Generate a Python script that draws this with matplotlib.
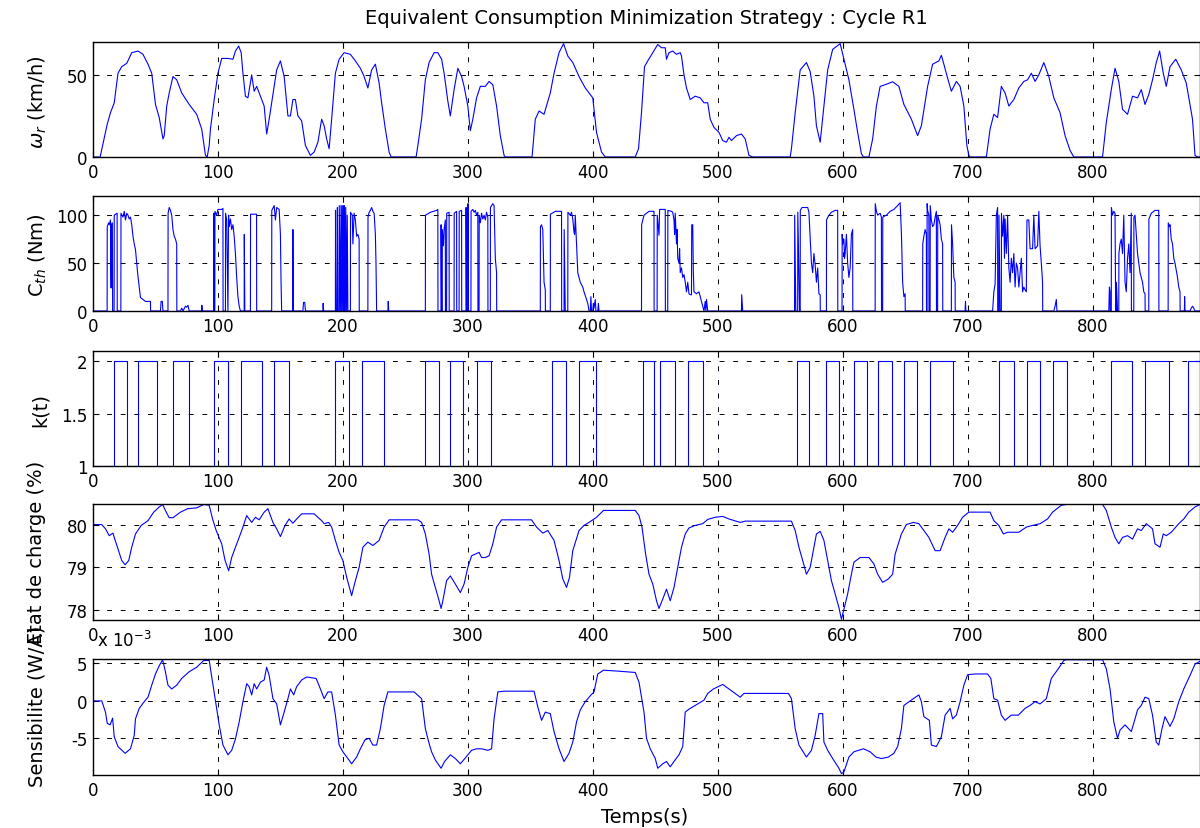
import numpy as np
import matplotlib
matplotlib.use("Agg")
import matplotlib.pyplot as plt
from matplotlib.ticker import FuncFormatter

# ---------------- data ----------------
# Vehicle speed (km/h)
speed_t = [0, 5.7, 11.4, 14, 17, 20, 23, 27, 31, 36, 40, 44, 47, 50, 53, 56, 57, 59, 61, 64, 67, 71, 77, 83, 87, 90,
           91.4, 93, 94, 97, 100, 103, 108, 112, 114, 116.6, 118.6, 120, 122, 124, 127, 129, 131, 134, 137, 139, 141,
           144, 147, 150, 153, 156, 158, 160, 162, 164, 167, 170, 174, 177, 180, 183, 185, 187, 189, 191, 194, 197,
           201, 206, 210, 214, 217, 220, 223, 226, 229, 231, 234, 237, 238.6, 258.6, 260, 263, 266, 269, 273, 276,
           279, 281, 284, 286, 289, 292, 295, 297, 300, 302, 304, 307, 310, 314, 317, 320, 323, 326, 329, 330, 351.4,
           354, 357, 361, 366, 369, 373, 376.6, 380, 384, 389, 394, 400, 403, 407, 410, 434, 436.6, 439, 441.4, 444,
           448, 452, 455, 458, 459, 461, 464, 467, 470, 471, 473, 475, 478, 482, 486, 489, 492, 494, 497, 501, 504,
           507, 509, 511, 515, 519, 522, 525, 528, 558, 559, 562, 566, 571, 574, 577, 579, 582, 585, 588, 592, 598,
           601, 605, 609, 612, 615, 616.6, 621, 624, 627, 630, 634, 640, 645, 649, 655, 660, 663, 668, 672, 677, 679,
           681, 684, 687, 691, 694, 697, 699.4, 701, 702, 715, 718, 721, 724, 727, 730, 733, 737, 741, 745, 748, 751,
           754, 757, 761, 765, 769, 774, 778, 782, 785, 808, 811, 815, 818, 821, 824, 828, 832, 836, 839, 842, 845,
           848, 851, 853.7, 856.6, 859, 862, 866.6, 871, 875, 880, 882, 884, 886]
speed_v = [0, 0, 20, 27, 33, 51, 55, 57, 63.5, 64.5, 62.5, 56.5, 51, 32, 24, 11, 13, 31, 39, 49, 47, 39, 32, 26, 17, 1,
           0, 7, 17, 35, 51, 60, 60, 59.5, 64.5, 67.5, 63.5, 51, 37, 36, 50, 40, 43, 37, 31, 14, 23,
           38, 53, 58.5, 49, 25, 25, 35, 35, 25, 22, 7, 1, 3, 9, 23, 19, 11, 5, 23, 51, 59.5,
           63.5, 62.5, 58.5, 54, 49, 42, 53, 56.5, 45, 33, 17, 3, 0, 0, 7, 23, 47, 57.5, 63.5, 63.5,
           59.5, 51, 34, 25, 41, 54, 49, 43, 31, 16, 23, 36, 43, 43, 46, 44, 31, 13, 1, 0, 0,
           23, 28, 26, 39, 51, 63.5, 69, 61.5, 57.5, 49, 42, 36, 15, 3, 0, 0, 5, 27, 55, 58.5,
           63.5, 68.5, 66.5, 66.5, 59.5, 63.5, 64.5, 62.5, 63.5, 61.5, 50, 42, 35, 37, 36, 33, 33, 23, 18, 15, 10,
           9, 12, 10, 13, 14, 11, 1, 0, 0, 5, 27, 53, 57.5, 52, 37, 19, 9, 31, 53, 65.5, 69,
           59.5, 47, 29, 15, 2, 0, 0, 11, 31, 43, 44, 45.8, 43, 32, 23, 13, 19, 43, 56.5, 58.5, 61.9,
           56.5, 48, 40, 46, 43, 31, 7, 1, 0, 0, 17, 26, 24, 43, 39, 31, 35, 42, 46, 47, 51,
           46, 50, 57.5, 49, 36, 27, 13, 4, 0, 0, 21, 41, 54, 46, 29, 26, 37, 36, 41, 32, 38,
           47, 57.5, 64.5, 51, 43, 55, 59.5, 53, 45, 23, 1, 0, 0]

# Thermal engine torque (Nm)
cth_t = [0, 11.3, 11.4, 12.5, 13, 14, 14.5, 14.6, 15.5, 15.7, 16.9, 17, 19.3, 19.4, 22.3, 22.4, 24, 25, 26, 27, 28,
         29, 30, 31, 32, 33, 34, 35, 36, 37, 38, 40, 42, 46, 46.1, 54, 54.5, 55.5, 56, 60, 60.1, 61, 62, 63, 64, 65,
         66, 67, 67.1, 70, 71, 72, 74, 75, 76, 77, 87, 87.1, 87.5, 96.5, 96.6, 97, 97.5, 97.6, 99, 100, 103, 104,
         104.1, 106, 106.1, 107, 108, 108.5, 109, 110, 111, 112, 113, 114, 115, 116, 117, 118, 121, 121.1, 121.5,
         126, 126.1, 130.9, 131, 143, 143.1, 145, 146, 147, 149, 150, 150.5, 151, 159.9, 160, 160.2, 168, 168.5,
         169.5, 170, 184, 184.2, 184.6, 194, 194.1, 194.6, 195.5, 195.6, 196, 197, 197.1, 198, 198.5, 199, 199.5,
         200, 200.5, 201, 201.3, 202, 202.3, 203, 203.5, 204, 206, 206.1, 207.5, 208, 209, 210, 211, 212, 213,
         213.1, 220, 220.1, 221, 222, 223, 224, 225, 226, 226.5, 227, 236, 236.3, 236.7, 266, 266.1, 270, 275, 276,
         276.1, 278.5, 278.6, 279, 279.5, 279.6, 280.5, 281, 282, 282.1, 283, 283.1, 285, 285.1, 289, 289.1, 291,
         291.1, 293, 293.1, 295, 295.1, 298.5, 298.6, 299, 300, 300.1, 300.5, 302.5, 302.6, 304, 305, 306, 307, 308,
         308.1, 309, 309.1, 310, 311, 312, 313, 314, 315, 316, 316.1, 318, 318.1, 320, 321, 322, 323, 323.1, 358,
         358.1, 359, 360, 361, 362, 362.1, 366, 366.1, 370, 375, 375.1, 377, 377.1, 378, 380, 380.1, 382, 383, 384,
         385, 385.5, 386, 387, 388, 390, 392, 393, 395, 396, 397, 398, 398.5, 399, 400, 400.5, 401, 402, 402.5, 404,
         404.5, 405, 439, 439.1, 441, 443, 445, 448, 449, 449.1, 451.5, 451.6, 453, 453.5, 458, 458.1, 460, 460.1,
         463, 464, 465, 465.5, 466, 467, 467.5, 468, 469, 469.5, 470, 471, 472, 473, 474, 475, 476, 477, 478, 479,
         479.2, 480, 480.5, 481, 483, 485, 487, 488, 489, 490, 490.5, 491, 492, 519, 519.2, 520, 561.5, 561.6, 562.5,
         564, 564.1, 565.5, 566, 566.1, 567.5, 572, 573, 574, 575, 576, 577, 578, 579, 580, 581, 582, 582.1, 587,
         587.1, 589, 591, 594, 596, 596.1, 599.5, 599.6, 600, 601, 601.5, 602, 603, 604, 605, 606, 607, 608, 608.1,
         626, 626.1, 627, 628, 630, 631, 631.1, 632, 632.1, 635, 638, 641, 644, 646, 647, 648, 649, 650, 650.1, 664,
         664.1, 665, 666, 667, 667.1, 667.5, 667.6, 668, 669, 669.1, 670, 670.1, 671, 672, 673, 674, 675, 675.1, 676,
         676.1, 678, 679, 680, 680.1, 687, 687.1, 688, 689, 690, 690.1, 698, 698.3, 698.6, 720, 721, 722, 723, 724,
         724.1, 725, 725.1, 726, 727, 727.1, 728, 729, 729.5, 730, 731, 732, 733, 734, 735, 736, 737, 738, 739, 740,
         741, 742, 743, 744, 745, 746, 747, 747.5, 749, 750, 752, 753, 754, 756, 757, 758, 759, 760, 760.1, 769, 770,
         771, 771.5, 813, 813.5, 814, 814.1, 815, 815.1, 816, 817, 818, 818.5, 819, 819.1, 820, 821, 821.1, 822, 823,
         824, 825, 826, 827, 828, 829, 830, 831, 831.1, 833, 833.1, 834, 835, 836, 838, 840, 841, 842, 842.1, 845,
         845.1, 847, 850, 853, 853.1, 860.5, 860.6, 861.5, 862, 863, 864, 865, 866, 868, 869, 870, 870.1, 873.5,
         873.7, 874, 878, 879, 880, 881, 882, 886]
cth_v = [0, 0, 88, 92, 90, 95, 24, 90, 92, 0, 0, 100, 102, 0, 0, 102, 98, 104, 95, 102, 100,
         96, 98, 90, 78, 70, 64, 50, 36, 25, 14, 12, 10, 10, 0, 0, 10, 10, 0, 0, 102, 108, 105, 100, 85, 78,
         75, 70, 0, 0, 3, 0, 5, 4, 6, 0, 0, 6, 0, 0, 102, 0, 0, 104, 100, 106, 106, 107,
         0, 0, 102, 95, 0, 100, 88, 96, 85, 90, 78, 60, 35, 15, 5, 0, 0, 80, 0,
         0, 101, 101, 0, 0, 105, 110, 95, 108, 106, 80, 31, 0, 0, 85, 0, 0, 9,
         9, 0, 0, 8, 0, 0, 105, 0, 0, 108, 0, 0, 110, 0, 110, 0, 110,
         0, 110, 0, 110, 0, 108, 0, 100, 0, 0, 103, 100, 70, 102, 95, 78, 80, 75,
         0, 0, 98, 103, 105, 108, 104, 102, 80, 50, 0, 0, 10, 0, 0, 100, 103, 105, 106,
         0, 0, 90, 0, 0, 85, 68, 85, 95, 0, 0, 102, 103, 0, 0, 102, 104,
         0, 0, 104, 105, 0, 0, 108, 0, 0, 112, 0, 0, 104, 106, 103, 105, 100, 103,
         0, 0, 100, 92, 102, 96, 100, 95, 103, 98, 0, 0, 108, 112, 110, 55, 40, 0, 0,
         88, 90, 85, 30, 22, 0, 0, 101, 104, 104, 0, 0, 85, 0, 0, 103, 100, 103, 96,
         82, 80, 100, 70, 40, 30, 25, 20, 12, 8, 0, 0, 15, 0, 0, 8, 3, 12, 0, 0,
         8, 0, 0, 90, 100, 102, 104, 104, 104, 0, 0, 100, 79, 106, 106, 0, 0, 105,
         104, 103, 95, 80, 102, 70, 85, 55, 50, 65, 40, 45, 35, 38, 30, 20, 30, 18, 17, 17,
         90, 90, 40, 20, 18, 20, 10, 5, 0, 10, 0, 12, 0, 0, 17, 0, 0, 100, 0,
         0, 103, 0, 0, 105, 108, 108, 103, 76, 50, 40, 60, 48, 30, 45, 18, 17, 0, 0,
         95, 100, 103, 105, 105, 0, 0, 80, 70, 75, 55, 60, 80, 50, 35, 45, 80, 85, 0,
         0, 112, 104, 100, 102, 98, 0, 0, 98, 100, 104, 106, 110, 113, 82, 30, 15, 18, 0, 0,
         70, 78, 85, 80, 0, 0, 112, 105, 100, 0, 0, 110, 95, 88, 90, 98, 104, 0, 0,
         100, 90, 75, 70, 0, 0, 90, 70, 35, 30, 0, 0, 10, 0, 0, 20, 28, 100, 108,
         0, 0, 100, 0, 0, 102, 78, 100, 55, 96, 60, 100, 45, 30, 55, 40, 60, 25, 50, 45,
         25, 40, 55, 20, 25, 22, 20, 95, 95, 65, 65, 100, 65, 68, 104, 68, 50, 30, 0, 0, 5,
         12, 0, 0, 25, 20, 0, 0, 108, 100, 104, 102, 0, 0, 30, 0, 0, 60, 70, 75,
         60, 100, 30, 20, 55, 70, 40, 102, 0, 0, 98, 100, 80, 60, 40, 30, 20, 18, 0, 0,
         96, 102, 105, 105, 0, 0, 92, 88, 90, 75, 70, 55, 50, 35, 25, 20, 0, 0,
         15, 0, 0, 3, 5, 3, 0, 0]

# Mode k(t): switches to 2 at k_on[i], back to 1 at k_off[i]
k_on = [16.6, 35.7, 64.3, 97.1, 118.6, 145, 194, 215, 266, 285.7, 307.7, 367.7, 388.6, 440, 453.7, 476,
        563.7, 586.6, 608.9, 628, 649.4, 670.3, 725, 747.4, 768.6, 815, 841.7, 876]
k_off = [27.1, 51.4, 76.6, 108, 134.9, 157, 205, 233, 276.6, 296, 318.6, 378.6, 402.3, 449.4, 465.7, 488,
         573, 597, 619.4, 639.4, 659.7, 688, 737, 758.3, 779.4, 831.4, 861.4, 890]

# State of charge (%)
soc_t = [0, 7, 10, 13, 16, 17, 20, 23, 25.7, 28.6, 31, 34, 38.6, 44, 48.6, 53, 55.7, 58.6, 61, 64, 70, 75.7, 83,
         88.6, 93, 95.7, 98.6, 103, 105.7, 108.6, 111, 114, 117, 120, 123, 127, 130, 133, 137, 140, 144, 147, 150,
         153.7, 157, 160, 163, 167, 177, 183, 185, 188.6, 191, 194, 197, 200, 203, 206, 207, 210, 213, 216, 220,
         224, 229, 233, 237, 260, 263, 266, 269, 271, 274, 277, 278.6, 280, 283, 286, 290, 294, 297, 300, 303, 306,
         309, 311, 314, 317, 320, 323, 327, 351, 355, 360, 364, 369, 373, 376, 379, 381.4, 384, 389, 393, 397, 403,
         408.6, 434, 437, 439.4, 442.3, 445, 448, 451, 453, 456, 459, 462, 465, 468, 471, 474, 477, 482, 488, 492,
         498, 504, 509, 518, 522, 559, 562, 565, 568, 571, 574, 577, 579, 582, 585, 588, 591, 594, 597, 599, 601,
         604, 607, 609, 614, 621, 625, 628, 632, 636.6, 640, 642, 647, 651, 656.6, 661, 665, 669, 674, 678, 682,
         685, 688, 692, 696, 701, 718, 721, 725, 728.6, 732, 741, 747, 752, 758, 764, 768, 775, 779, 808, 811, 815,
         818, 821, 824, 828, 832, 836, 839, 843, 848, 850, 854, 856.6, 859, 863, 869, 873, 877, 882, 886]
soc_v = [80.0, 80.0, 79.9, 79.74, 79.8, 79.7, 79.43, 79.16, 79.06, 79.16, 79.47, 79.78, 79.98, 80.09, 80.29, 80.41,
         80.47, 80.29, 80.16, 80.16, 80.29, 80.37, 80.39, 80.47, 80.45, 80.13, 79.86, 79.55, 79.16, 78.92, 79.23,
         79.47, 79.7, 79.94, 80.21, 80.05, 80.17, 80.11, 80.29, 80.37, 80.05, 79.9, 79.72, 79.98, 80.13, 80.03,
         80.13, 80.25, 80.25, 80.09, 80.02, 80.05, 79.94, 79.63, 79.35, 79.16, 78.77, 78.45, 78.34, 78.69, 79.0,
         79.47, 79.59, 79.51, 79.63, 79.94, 80.11, 80.11, 80.05, 79.78, 79.31, 78.84, 78.53, 78.22, 78.04, 78.22,
         78.69, 78.8, 78.61, 78.41, 78.61, 79.0, 79.27, 79.31, 79.35, 79.23, 79.23, 79.27, 79.55, 79.94, 80.11,
         80.11, 79.94, 79.8, 79.86, 79.63, 79.16, 78.73, 78.53, 78.77, 79.39, 79.86, 79.98, 80.05, 80.17, 80.33,
         80.33, 80.21, 79.94, 79.31, 78.84, 78.61, 78.22, 78.04, 78.26, 78.49, 78.22, 78.53, 79.0, 79.47, 79.78,
         79.92, 79.98, 80.02, 80.12, 80.17, 80.19, 80.13, 80.05, 80.08, 80.08, 79.86, 79.47, 79.16, 78.84, 79.0,
         79.47, 79.78, 79.84, 79.63, 79.16, 78.69, 78.38, 78.06, 77.79, 78.02, 78.38, 78.84, 79.12, 79.23, 79.23,
         79.08, 78.84, 78.65, 78.73, 78.84, 79.31, 79.78, 80.0, 80.05, 80.02, 79.86, 79.7, 79.39, 79.39, 79.7,
         79.9, 79.82, 79.98, 80.17, 80.29, 80.29, 80.09, 79.98, 79.78, 79.82, 79.82, 79.94, 79.98, 80.02, 80.13,
         80.29, 80.45, 80.47, 80.47, 80.33, 79.94, 79.7, 79.55, 79.7, 79.74, 79.66, 79.9, 79.86, 80.02, 79.9,
         79.55, 79.47, 79.78, 79.74, 79.82, 80.02, 80.13, 80.29, 80.41, 80.47]

# Sensitivity (x 1e-3 W/A)
sens_t = [0, 7, 10, 11.4, 13.7, 15.7, 17, 20, 25.7, 30, 33, 34, 37, 41, 44, 47, 50, 53, 55.7, 57.7, 60, 63, 67, 71,
          77, 83, 88.6, 93, 95.7, 98.6, 101, 104, 108, 111, 114, 117, 120, 123, 125, 127, 129, 131, 134, 137, 139,
          141, 144, 147, 150, 153, 156, 158, 160.6, 163, 167, 171, 178.6, 182, 185, 188, 191, 194, 197, 200, 204,
          207, 211, 214, 217.7, 221, 224, 227, 230, 233, 236, 238.6, 257, 263, 266, 269, 271, 274, 278.6, 281.4, 286,
          290, 294, 298.6, 303, 307, 311, 316, 319, 321, 324, 329, 353, 356, 359, 362, 366, 369, 373, 377, 381, 384,
          387, 390, 394, 398.6, 401, 404, 408.6, 418.6, 434, 437, 441, 443, 446, 450, 452, 456, 459, 462, 465, 469,
          472, 474, 477, 482, 489, 492, 496.6, 504, 509, 518, 521, 556.6, 559, 562, 565, 571, 575, 578, 581, 584,
          585, 588, 592, 597, 599, 601, 605, 609, 616.6, 622, 626.6, 631, 636.6, 641, 644, 647, 649, 656.6, 661,
          663, 665, 669.4, 671, 675, 679, 682, 686, 688, 691, 694, 697, 700, 706, 716, 718.6, 721, 724, 727, 730,
          734.9, 740.6, 746, 750, 754, 758, 763, 767, 772.6, 777, 779, 808, 811, 814, 817, 820, 822, 826, 831, 834,
          836, 839, 842, 845, 848, 851, 853, 855.6, 858, 862, 865, 869, 873, 878, 882, 886]
sens_v = [0, 0, -1.5, -3.0, -3.2, -2.3, -4.8, -6.1, -7.0, -6.4, -4.6, -2.4, -1.0, -0.1, 0.5, 2.1, 3.6, 4.7, 5.5, 4.1,
          2.1, 1.6, 2.1, 3.0, 3.9, 4.5, 5.4, 5.4, 2.5, -0.6, -3.2, -5.9, -7.2, -6.6, -5.1, -2.8, -0.1, 2.3, 1.9,
          0.8, 2.3, 1.6, 2.5, 2.8, 4.5, 3.4, 0.3, -0.4, -3.2, -1.5, 0.3, 1.6, 0.8, 1.9, 2.8, 3.2, 3.0, 1.6, 0.3,
          1.2, 1.2, -1.9, -5.9, -6.8, -7.7, -8.4, -7.5, -6.4, -5.2, -5.0, -5.9, -5.9, -3.7, -0.6, 1.2, 1.2, 1.2,
          0.3, -3.7, -5.7, -6.8, -7.9, -9.0, -8.1, -7.2, -7.7, -8.4, -7.5, -6.6, -6.4, -6.4, -6.6, -6.4, -2.4, 1.2,
          1.3, 1.3, -0.8, -2.6, -1.5, -1.7, -4.1, -6.4, -8.1, -7.0, -5.5, -2.8, -1.2, -0.1, 0.8, 1.2, 3.6, 4.1, 4.0,
          3.8, 2.5, -1.5, -5.0, -6.4, -7.7, -9.0, -8.4, -8.1, -8.8, -8.1, -7.2, -6.1, -1.5, -1.1, -0.6, 0.1, 1.0,
          1.6, 2.2, 1.6, 0.5, 1.0, 1.0, 0.3, -3.7, -5.9, -7.5, -6.6, -4.6, -1.7, -1.7, -5.5, -6.6, -7.7, -9.0,
          -9.7, -9.5, -7.5, -6.8, -6.4, -6.8, -7.5, -7.7, -7.5, -7.0, -6.1, -3.7, -0.6, 0.3, 0.8, -0.1, -2.1, -2.6,
          -5.9, -6.1, -4.8, -1.9, -1.0, -2.4, -1.9, -0.1, 2.1, 3.5, 3.6, 3.6, 3.0, 0.3, 0.1, -1.9, -2.6, -1.9,
          -1.9, -1.0, -0.6, -0.1, -0.4, 0.3, 3.0, 4.3, 5.4, 5.5, 5.5, 4.3, 1.6, -2.8, -5.0, -3.9, -3.2, -4.1,
          -2.4, -1.2, -0.6, 0.5, 0.3, -1.9, -5.5, -5.9, -3.7, -2.1, -3.4, -2.4, -0.1, 1.6, 3.4, 4.9, 5.3]

x_ticks = [0, 100, 200, 300, 400, 500, 600, 700, 800]
title_text = "Equivalent Consumption Minimization Strategy : Cycle R1"

# ---------------- figure ----------------
W, H = 1200, 829
plt.rcParams['font.family'] = ['DejaVu Sans']
fig = plt.figure(figsize=(W / 100, H / 100), dpi=100)

left_px, right_px = 93, 1200
boxes = [(43, 158), (197, 312), (352, 467), (505, 621), (660, 776)]
axes = []
for top, bot in boxes:
    ax = fig.add_axes([left_px / W, 1 - bot / H, (right_px - left_px) / W, (bot - top) / H])
    axes.append(ax)

# build k(t) step signal from switch times
k_t = [0.0]
k_v = [1.0]
for on, off in zip(k_on, k_off):
    k_t += [on, on, off, off]
    k_v += [1.0, 2.0, 2.0, 1.0]

series = [
    (speed_t, speed_v, (0, 70), [0, 50], False),
    (cth_t, cth_v, (0, 120), [0, 50, 100], False),
    (k_t, k_v, (1, 2.1), [1, 1.5, 2], False),
    (soc_t, soc_v, (77.77, 80.48), [78, 79, 80], False),
    (sens_t, [v * 1e-3 for v in sens_v], (-9.9e-3, 5.6e-3), [-5e-3, 0, 5e-3], True),
]

for ax, (tt, vv, yl, yt, scaled) in zip(axes, series):
    ax.plot(tt, vv, color=(0, 0, 1), lw=0.8)
    ax.set_xlim(0, 886)
    ax.set_ylim(*yl)
    ax.set_xticks(x_ticks)
    ax.set_yticks(yt)
    if scaled:
        ax.yaxis.set_major_formatter(FuncFormatter(lambda v, p: f"{v * 1e3:g}"))
    else:
        ax.yaxis.set_major_formatter(FuncFormatter(lambda v, p: f"{v:g}"))
    ax.grid(True, color='black', linestyle=(0, (5, 9)), linewidth=0.7)
    ax.tick_params(direction='in', top=True, right=True, length=4, width=0.8,
                   labelsize=12, pad=4)
    for s in ax.spines.values():
        s.set_linewidth(1.0)
        s.set_color('black')

# texts
fig.text(646 / W, 1 - 18 / H, title_text, ha='center', va='center', fontsize=14)
fig.text(645 / W, 1 - 818 / H, "Temps(s)", ha='center', va='center', fontsize=14)
fig.text(38 / W, 1 - 102 / H, r"$\omega_r$ (km/h)", ha='center', va='center', rotation=90, fontsize=14)
fig.text(38 / W, 1 - 255 / H, r"C$_{th}$ (Nm)", ha='center', va='center', rotation=90, fontsize=14)
fig.text(40 / W, 1 - 410 / H, "k(t)", ha='center', va='center', rotation=90, fontsize=14)
fig.text(37 / W, 1 - 552 / H, "Etat de charge (%)", ha='center', va='center', rotation=90, fontsize=14)
fig.text(37 / W, 1 - 706 / H, "Sensibilite (W/A)", ha='center', va='center', rotation=90, fontsize=14)
fig.text(97 / W, 1 - 641 / H, r"x 10$^{-3}$", ha='left', va='center', fontsize=12)

fig.savefig("out.png", dpi=100)
